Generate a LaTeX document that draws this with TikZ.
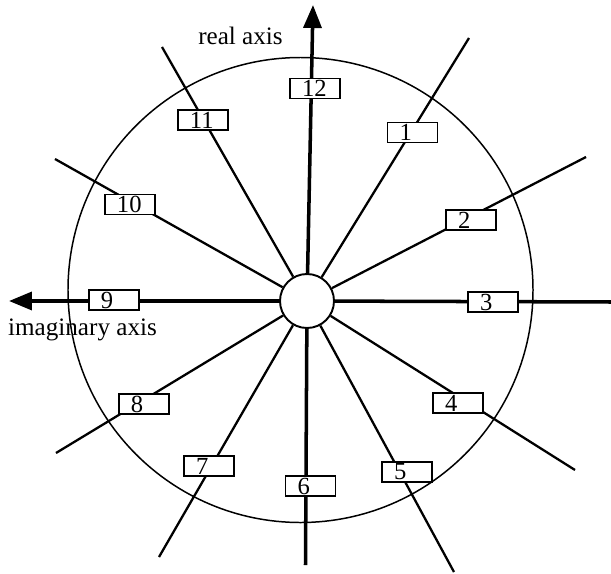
\documentclass[tikz,border=0pt]{standalone}
\usepackage{fontspec}
\setmainfont{Liberation Serif}
\usetikzlibrary{arrows.meta}

\tikzset{
	axis/.style={line width=2pt},
	spoke/.style={line width=1.3pt},
	hub/.style={circle, draw, fill=white, line width=1.1pt, minimum size=1.08cm, inner sep=0pt},
	hourbox/.style={draw, fill=white, line width=0.9pt, minimum height=0.4cm, text width=0.52cm, inner xsep=0.24cm, inner ysep=0pt, align=left, font=\fontsize{14}{14}\selectfont},
	axislabel/.style={anchor=base, font=\fontsize{14.3}{16}\selectfont}
}

\begin{document}
\begin{tikzpicture}
			\useasboundingbox (-6.14,-5.44) rectangle (6.08,6.02);
			\draw [line width=0.85pt] (-0.13,0.22) circle (4.65);
			\node [hub] (hub) at (0,0) {};
			\coordinate (up) at (0.12,5.92);
			\coordinate (down) at (-0.03,-5.28);
			\coordinate (left) at (-5.96,0);
			\coordinate (right) at (6.1,-0.02);
			\coordinate (o1) at (3.24,5.26);
			\coordinate (o2) at (5.58,2.88);
			\coordinate (o4) at (5.36,-3.38);
			\coordinate (o5) at (2.94,-5.42);
			\coordinate (o7) at (-2.96,-5.12);
			\coordinate (o8) at (-5.02,-3.04);
			\coordinate (o10) at (-5.04,2.84);
			\coordinate (o11) at (-2.90,5.08);
			\draw [axis, -{Triangle[length=0.46cm, width=0.36cm]}] (hub) -- (up);
			\draw [axis, -{Triangle[length=0.46cm, width=0.36cm]}] (hub) -- (left);
			\draw [axis] (hub) -- (down);
			\draw [axis] (hub) -- (right);
			\draw [spoke] (hub) -- (o1);
			\draw [spoke] (hub) -- (o2);
			\draw [spoke] (hub) -- (o4);
			\draw [spoke] (hub) -- (o5);
			\draw [spoke] (hub) -- (o7);
			\draw [spoke] (hub) -- (o8);
			\draw [spoke] (hub) -- (o10);
			\draw [spoke] (hub) -- (o11);
			\node [hourbox] (h12) at (0.16,4.25) {12};
			\node [hourbox] (h1) at (2.11,3.37) {1};
			\node [hourbox] (h2) at (3.28,1.62) {2};
			\node [hourbox] (h3) at (3.72,-0.02) {3};
			\node [hourbox] (h4) at (3.02,-2.04) {4};
			\node [hourbox] (h5) at (2.00,-3.42) {5};
			\node [hourbox] (h6) at (0.07,-3.70) {6};
			\node [hourbox] (h7) at (-1.96,-3.30) {7};
			\node [hourbox] (h8) at (-3.26,-2.06) {8};
			\node [hourbox] (h9) at (-3.86,0.02) {9};
			\node [hourbox] (h10) at (-3.54,1.93) {10};
			\node [hourbox] (h11) at (-2.08,3.62) {11};
			\node [axislabel] (re) at (-1.33,5.12) {real axis};
			\node [axislabel] (im) at (-4.49,-0.68) {imaginary axis};
	\end{tikzpicture}
\end{document}
